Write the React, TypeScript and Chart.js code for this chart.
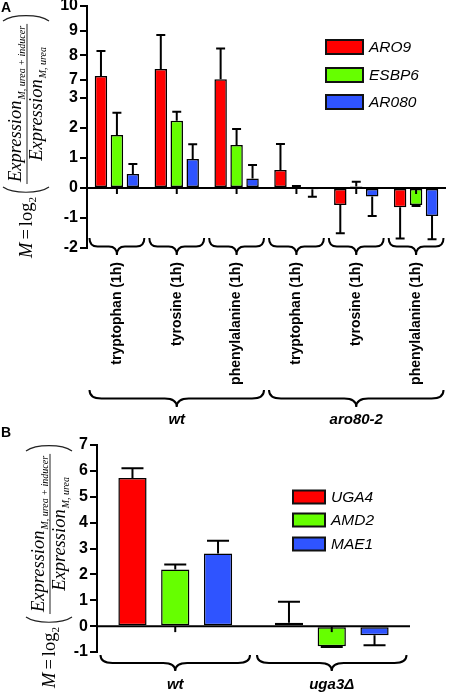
import React, { useEffect, useRef } from 'react';
import { Chart, LinearScale, registerables } from 'chart.js';

Chart.register(...registerables);

// ---------- Panel A data ----------
const categoriesA = ['tryptophan (1h)', 'tyrosine (1h)', 'phenylalanine (1h)', 'tryptophan (1h)', 'tyrosine (1h)', 'phenylalanine (1h)'];
const strainsA = ['wt', 'aro80-2'];
const seriesNamesA = ['ARO9', 'ESBP6', 'AR080'];
const aro9Values = [7.16, 7.45, 7.03, 0.6, -0.57, -0.64];
const aro9Errors = [1.02, 1.37, 1.25, 0.87, 0.94, 1.04];
const esbp6Values = [1.77, 2.24, 1.43, 0.03, 0.05, -0.57];
const esbp6Errors = [0.74, 0.3, 0.54, 0.04, 0.16, 0.03];
const aro80Values = [0.47, 0.97, 0.32, -0.04, -0.28, -0.93];
const aro80Errors = [0.33, 0.49, 0.45, 0.25, 0.65, 0.78];
const yTicksA = [-2, -1, 0, 1, 2, 3, 7, 8, 9, 10];

// ---------- Panel B data ----------
const categoriesB = ['wt', 'uga3Δ'];
const seriesNamesB = ['UGA4', 'AMD2', 'MAE1'];
const uga4Values = [5.72, 0.13];
const uga4Errors = [0.38, 0.81];
const amd2Values = [2.19, -0.78];
const amd2Errors = [0.19, 0.03];
const mae1Values = [2.81, -0.35];
const mae1Errors = [0.49, 0.39];

const RED = '#FF0000';
const GREEN = '#66FF00';
const BLUE = '#2F54FF';
const SANS = '"Liberation Sans", Arial, sans-serif';
const SERIF = '"Liberation Serif", "Times New Roman", serif';

// ---------- broken axis transform (3 .. 7 compressed) ----------
function fwd(v: number) {
  if (v <= 3) return v;
  if (v >= 7) return 3.6 + (v - 7) * 0.8222;
  return 3 + (v - 3) * 0.15;
}
function inv(t: number) {
  if (t <= 3) return t;
  if (t >= 3.6) return 7 + (t - 3.6) / 0.8222;
  return 3 + (t - 3) / 0.15;
}

class BrokenLinearScale extends LinearScale {
  buildTicks() {
    // @ts-ignore
    this.start = this.min;
    // @ts-ignore
    this.end = this.max;
    return yTicksA.map((v) => ({ value: v }));
  }
  getPixelForValue(value: number) {
    const a = fwd(this.min), b = fwd(this.max);
    return this.getPixelForDecimal((fwd(value) - a) / (b - a));
  }
  getValueForPixel(pixel: number) {
    const a = fwd(this.min), b = fwd(this.max);
    return inv(a + this.getDecimalForPixel(pixel) * (b - a));
  }
}
// @ts-ignore
BrokenLinearScale.id = 'brokenLinear';
// @ts-ignore
BrokenLinearScale.defaults = LinearScale.defaults;
Chart.register(BrokenLinearScale as any);

// ---------- drawing helpers ----------
function drawBrace(ctx: CanvasRenderingContext2D, x1: number, x2: number, yTop: number, h: number, q: number) {
  const xm = (x1 + x2) / 2;
  const yl = yTop + h;
  ctx.beginPath();
  ctx.moveTo(x1, yTop);
  ctx.quadraticCurveTo(x1, yl, x1 + q, yl);
  ctx.lineTo(xm - q, yl);
  ctx.quadraticCurveTo(xm, yl, xm, yl + h);
  ctx.quadraticCurveTo(xm, yl, xm + q, yl);
  ctx.lineTo(x2 - q, yl);
  ctx.quadraticCurveTo(x2, yl, x2, yTop);
  ctx.stroke();
}

function drawErrorBars(chart: any, errs: number[][], vals: number[][], capRatio: number, lw: number) {
  const ctx = chart.ctx;
  const y = chart.scales.y;
  ctx.save();
  ctx.strokeStyle = '#000';
  ctx.lineWidth = lw;
  errs.forEach((errArr, i) => {
    const meta = chart.getDatasetMeta(i);
    meta.data.forEach((el: any, j: number) => {
      const v = vals[i][j];
      const e = errArr[j];
      const y1 = y.getPixelForValue(v);
      const y2 = y.getPixelForValue(v + (v >= 0 ? e : -e));
      const cw = el.width * capRatio;
      ctx.beginPath();
      ctx.moveTo(el.x, y1);
      ctx.lineTo(el.x, y2);
      ctx.moveTo(el.x - cw / 2, y2);
      ctx.lineTo(el.x + cw / 2, y2);
      ctx.stroke();
    });
  });
  ctx.restore();
}

function drawLegend(ctx: CanvasRenderingContext2D, names: string[], colors: string[], x: number, ys: number[], bw: number, bh: number, fontPx: number) {
  ctx.save();
  names.forEach((n, i) => {
    const yc = ys[i];
    ctx.fillStyle = colors[i];
    ctx.fillRect(x, yc - bh / 2, bw, bh);
    ctx.strokeStyle = '#111';
    ctx.lineWidth = 2;
    ctx.strokeRect(x, yc - bh / 2, bw, bh);
    ctx.fillStyle = '#000';
    ctx.font = `italic ${fontPx}px ${SANS}`;
    ctx.textAlign = 'left';
    ctx.textBaseline = 'middle';
    ctx.fillText(n, x + bw + 6, yc + 1);
  });
  ctx.restore();
}

function drawFormula(ctx: CanvasRenderingContext2D, cx: number, yBottom: number) {
  const big = 18.5, small = 10;
  ctx.save();
  ctx.translate(cx, yBottom);
  ctx.rotate(-Math.PI / 2);
  ctx.fillStyle = '#000';
  ctx.strokeStyle = '#222';
  ctx.textBaseline = 'alphabetic';
  ctx.textAlign = 'left';
  const fIt = `italic ${big}px ${SERIF}`;
  const fUp = `${big}px ${SERIF}`;
  const fSubIt = `italic ${small}px ${SERIF}`;
  const fSubUp = `${small + 1}px ${SERIF}`;
  let u = 0;
  const vMain = 5;
  ctx.font = fIt; ctx.fillText('M', u, vMain); u += ctx.measureText('M').width + 3;
  ctx.font = fUp; ctx.fillText('=', u, vMain); u += ctx.measureText('=').width + 3;
  ctx.fillText('log', u, vMain); u += ctx.measureText('log').width;
  ctx.font = fSubUp; ctx.fillText('2', u, vMain + 4); u += ctx.measureText('2').width + 3;
  const pw = 7, vT = -24, vB = 22;
  ctx.lineWidth = 1.2;
  ctx.beginPath(); ctx.moveTo(u + pw, vT); ctx.bezierCurveTo(u, vT + 10, u, vB - 10, u + pw, vB); ctx.stroke();
  u += pw + 3;
  ctx.font = fIt; const wE = ctx.measureText('Expression').width;
  ctx.font = fSubIt;
  const sn = 'M, urea + inducer', sd = 'M, urea';
  const wSN = ctx.measureText(sn).width, wSD = ctx.measureText(sd).width;
  const wNum = wE + 1 + wSN, wDen = wE + 1 + wSD;
  const wF = Math.max(wNum, wDen) + 4;
  const un = u + (wF - wNum) / 2;
  ctx.font = fIt; ctx.fillText('Expression', un, -6);
  ctx.font = fSubIt; ctx.fillText(sn, un + wE + 1, -2);
  ctx.lineWidth = 1;
  ctx.beginPath(); ctx.moveTo(u, 0); ctx.lineTo(u + wF, 0); ctx.stroke();
  const ud = u + (wF - wDen) / 2;
  ctx.font = fIt; ctx.fillText('Expression', ud, 15);
  ctx.font = fSubIt; ctx.fillText(sd, ud + wE + 1, 19);
  u += wF + 3;
  ctx.lineWidth = 1.2;
  ctx.beginPath(); ctx.moveTo(u, vT); ctx.bezierCurveTo(u + pw, vT + 10, u + pw, vB - 10, u, vB); ctx.stroke();
  ctx.restore();
}

function barDataset(label: string, data: number[], color: string, bw: number, cp: number, bp: number) {
  return {
    label, data, backgroundColor: color, borderColor: '#000', borderWidth: bw,
    borderSkipped: false, categoryPercentage: cp, barPercentage: bp,
  };
}

function makeConfigA(): any {
  const vals = [aro9Values, esbp6Values, aro80Values];
  const errs = [aro9Errors, esbp6Errors, aro80Errors];
  const colors = [RED, GREEN, BLUE];
  return {
    type: 'bar',
    data: {
      labels: categoriesA,
      datasets: seriesNamesA.map((n, i) => barDataset(n, vals[i], colors[i], 1.5, 0.8, 0.78)),
    },
    options: {
      responsive: false,
      animation: false,
      layout: { padding: { top: 6, right: 4, left: 0, bottom: 0 } },
      plugins: { legend: { display: false }, tooltip: { enabled: false } },
      scales: {
        x: {
          type: 'category',
          grid: { display: false, drawTicks: false },
          border: { display: false },
          ticks: {
            color: '#000', autoSkip: false, minRotation: 90, maxRotation: 90, padding: 14,
            font: { family: SANS, size: 14, weight: 'bold' },
          },
          afterFit: (s: any) => { s.height = 182; s.paddingLeft = 0; s.paddingRight = 0; },
        },
        y: {
          type: 'brokenLinear',
          min: -2, max: 10,
          grid: { drawOnChartArea: false, drawTicks: true, tickLength: 7, color: '#000', lineWidth: 2 },
          border: { display: true, color: '#000', width: 2 },
          ticks: { color: '#000', padding: 2, font: { family: SANS, size: 16, weight: 'bold' }, callback: (v: any) => String(v) },
          afterFit: (s: any) => { s.width = 87; s.paddingTop = 0; s.paddingBottom = 0; },
        },
      },
    },
    plugins: [{
      id: 'decorA',
      afterDatasetsDraw(chart: any) {
        const ctx = chart.ctx;
        const { left, right, bottom } = chart.chartArea;
        const x = chart.scales.x, y = chart.scales.y;
        const y0 = y.getPixelForValue(0);
        ctx.save();
        ctx.strokeStyle = '#000';
        ctx.lineWidth = 2;
        ctx.beginPath(); ctx.moveTo(left, y0); ctx.lineTo(right, y0); ctx.stroke();
        for (let i = 0; i < categoriesA.length; i++) {
          const cx = x.getPixelForValue(i);
          ctx.beginPath(); ctx.moveTo(cx, y0); ctx.lineTo(cx, y0 + 6); ctx.stroke();
        }
        ctx.restore();
        drawErrorBars(chart, errs, vals, 0.72, 2);
        ctx.save();
        ctx.strokeStyle = '#000';
        ctx.lineWidth = 2;
        const step = x.getPixelForValue(1) - x.getPixelForValue(0);
        const half = step / 2 - 2.5;
        for (let i = 0; i < categoriesA.length; i++) {
          const cx = x.getPixelForValue(i);
          drawBrace(ctx, cx - half, cx + half, bottom - 10, 8.5, 8);
        }
        ctx.fillStyle = '#000';
        ctx.font = `italic bold 15px ${SANS}`;
        ctx.textAlign = 'center';
        ctx.textBaseline = 'middle';
        strainsA.forEach((s, g) => {
          const x1 = x.getPixelForValue(g * 3) - half;
          const x2 = x.getPixelForValue(g * 3 + 2) + half;
          drawBrace(ctx, x1, x2, 390, 8.5, 12);
          ctx.fillText(s, (x1 + x2) / 2, 420);
        });
        ctx.restore();
        drawLegend(ctx, seriesNamesA, colors, 326, [47, 75, 102], 37, 14, 15.5);
        drawFormula(ctx, 27, 258);
        ctx.save();
        ctx.fillStyle = '#000';
        ctx.font = `bold 14px ${SANS}`;
        ctx.textBaseline = 'top';
        ctx.textAlign = 'left';
        ctx.fillText('A', 1, 1);
        ctx.restore();
      },
    }],
  };
}

function makeConfigB(): any {
  const vals = [uga4Values, amd2Values, mae1Values];
  const errs = [uga4Errors, amd2Errors, mae1Errors];
  const colors = [RED, GREEN, BLUE];
  return {
    type: 'bar',
    data: {
      labels: categoriesB,
      datasets: seriesNamesB.map((n, i) => barDataset(n, vals[i], colors[i], 1.5, 0.82, 0.66)),
    },
    options: {
      responsive: false,
      animation: false,
      layout: { padding: { top: 21, right: 40, left: 0, bottom: 0 } },
      plugins: { legend: { display: false }, tooltip: { enabled: false } },
      scales: {
        x: {
          type: 'category',
          grid: { display: false, drawTicks: false },
          border: { display: false },
          ticks: {
            color: '#000', autoSkip: false, maxRotation: 0, padding: 24,
            font: { family: SANS, size: 15, weight: 'bold', style: 'italic' },
          },
          afterFit: (s: any) => { s.height = 40; s.paddingLeft = 0; s.paddingRight = 0; },
        },
        y: {
          type: 'linear',
          min: -1, max: 7,
          grid: { drawOnChartArea: false, drawTicks: true, tickLength: 7, color: '#000', lineWidth: 2 },
          border: { display: true, color: '#000', width: 2 },
          ticks: { color: '#000', padding: 2, stepSize: 1, font: { family: SANS, size: 16, weight: 'bold' } },
          afterFit: (s: any) => { s.width = 97; s.paddingTop = 0; s.paddingBottom = 0; },
        },
      },
    },
    plugins: [{
      id: 'decorB',
      afterDatasetsDraw(chart: any) {
        const ctx = chart.ctx;
        const { left, right } = chart.chartArea;
        const x = chart.scales.x, y = chart.scales.y;
        const y0 = y.getPixelForValue(0);
        ctx.save();
        ctx.strokeStyle = '#000';
        ctx.lineWidth = 2;
        ctx.beginPath(); ctx.moveTo(left, y0); ctx.lineTo(right, y0); ctx.stroke();
        for (let i = 0; i < categoriesB.length; i++) {
          const cx = x.getPixelForValue(i);
          ctx.beginPath(); ctx.moveTo(cx, y0); ctx.lineTo(cx, y0 + 6); ctx.stroke();
        }
        ctx.restore();
        drawErrorBars(chart, errs, vals, 0.78, 2);
        ctx.save();
        ctx.strokeStyle = '#000';
        ctx.lineWidth = 2;
        const step = x.getPixelForValue(1) - x.getPixelForValue(0);
        const half = step / 2 - 3.5;
        for (let i = 0; i < categoriesB.length; i++) {
          const cx = x.getPixelForValue(i);
          drawBrace(ctx, cx - half, cx + half, 231, 8, 12);
        }
        ctx.restore();
        drawLegend(ctx, seriesNamesB, colors, 293, [73, 96, 120], 32, 13, 15.5);
        drawFormula(ctx, 50, 264);
        ctx.save();
        ctx.fillStyle = '#000';
        ctx.font = `bold 14px ${SANS}`;
        ctx.textBaseline = 'top';
        ctx.textAlign = 'left';
        ctx.fillText('B', 1, 2);
        ctx.restore();
      },
    }],
  };
}

export default function App() {
  const refA = useRef<HTMLCanvasElement>(null);
  const refB = useRef<HTMLCanvasElement>(null);
  useEffect(() => {
    document.body.style.margin = '0';
    const chartA = new Chart(refA.current as HTMLCanvasElement, makeConfigA());
    const chartB = new Chart(refB.current as HTMLCanvasElement, makeConfigB());
    return () => { chartA.destroy(); chartB.destroy(); };
  }, []);
  return (
    <div style={{ position: 'fixed', left: 0, top: 0, width: 450, height: 692, background: '#fff' }}>
      <canvas ref={refA} width={450} height={430} style={{ position: 'absolute', left: 0, top: 0, width: 450, height: 430 }} />
      <canvas ref={refB} width={450} height={268} style={{ position: 'absolute', left: 0, top: 424, width: 450, height: 268 }} />
    </div>
  );
}
